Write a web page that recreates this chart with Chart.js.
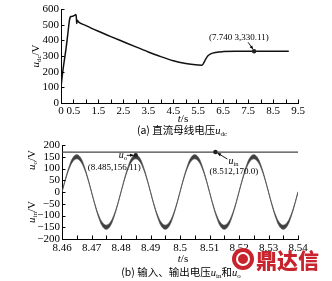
<!DOCTYPE html>
<html><head><meta charset="utf-8">
<script src="https://cdn.jsdelivr.net/npm/chart.js@4.4.0/dist/chart.umd.min.js"></script>
<style>
html,body{margin:0;padding:0;background:#fff;}
#wrap{position:relative;width:332px;height:281px;overflow:hidden;font-family:"Liberation Serif","DejaVu Serif",serif;}
canvas{position:absolute;left:0;top:0;}
.t{position:absolute;white-space:nowrap;font-size:11px;color:#000;line-height:1;transform:translate(-50%,-50%);}
.rot{transform:translate(-50%,-50%) rotate(-90deg);}
.cn{font-family:"Noto Sans CJK SC","Liberation Serif",serif;font-size:10.5px;}
i{font-style:italic;font-family:"Liberation Serif",serif;}
.s{font-size:7px;position:relative;top:2px;font-family:"Liberation Serif",serif;}
#logo{position:absolute;left:232px;top:248px;width:22px;height:22px;border-radius:50%;background:#c9242d;}
#logo:after{content:"";position:absolute;left:4px;top:4px;width:10px;height:10px;border:2px solid #fff;border-radius:50%;}
#wm{position:absolute;left:256px;top:246px;font-family:"Noto Sans CJK SC",sans-serif;font-weight:900;font-size:21px;color:#c9242d;line-height:26px;letter-spacing:0px;}
</style></head><body>
<div id="wrap">
<canvas id="c1" width="332" height="281"></canvas>
<canvas id="c2" width="332" height="281"></canvas>
<div class="t rot" style="left:35px;top:56px"><i>u</i><span class="s">dc</span>/V</div>
<div class="t" style="left:183px;top:118px"><i>t</i>/s</div>
<div class="t cn" style="left:182px;top:131px">(a) 直流母线电压<i>u</i><span class="s">dc</span></div>
<div class="t rot" style="left:31px;top:160px"><i>u</i><span class="s">o</span>/V</div>
<div class="t rot" style="left:31px;top:212px"><i>u</i><span class="s">in</span>/V</div>
<div class="t" style="left:183px;top:258px"><i>t</i>/s</div>
<div class="t cn" style="left:181px;top:273px">(b) 输入、输出电压<i>u</i><span class="s">in</span>和<i>u</i><span class="s">o</span></div>
<div id="logo"></div>
<div id="wm">鼎达信</div>
</div>
<script>
// ---- data: (a) DC bus voltage ----
const tDc = [0,0.04,0.1,0.2,0.28,0.33,0.37,0.4,0.45,0.5,0.55,0.58,0.61,0.63,0.65,0.7,1.0,1.5,2.0,2.5,3.0,3.5,4.0,4.5,5.0,5.3,5.5,5.65,5.7,5.8,5.9,6.0,6.2,6.5,7.0,7.74,8.5,9.13];
const uDc = [98,160,235,345,450,520,548,552,553,556,560,565,556,508,528,518,494,458,424,391,358,326,296,270,252,245,242,241,250,280,303,314,323,328,330,330,330,330];
const xTicksA = [0,0.5,1,1.5,2,2.5,3,3.5,4,4.5,5,5.5,6,6.5,7,7.5,8,8.5,9,9.5];
const xLabelsA = ['0','0.5','','1.5','','2.5','','3.5','','4.5','','5.5','','6.5','','7.5','','8.5','','9.5'];
const yTicksA = [0,100,200,300,400,500,600];

// ---- data: (b) input / output voltage ----
const tB = [8.46000,8.46125,8.46250,8.46375,8.46500,8.46625,8.46750,8.46875,
8.47000,8.47125,8.47250,8.47375,8.47500,8.47625,8.47750,8.47875,
8.48000,8.48125,8.48250,8.48375,8.48500,8.48625,8.48750,8.48875,
8.49000,8.49125,8.49250,8.49375,8.49500,8.49625,8.49750,8.49875,
8.50000,8.50125,8.50250,8.50375,8.50500,8.50625,8.50750,8.50875,
8.51000,8.51125,8.51250,8.51375,8.51500,8.51625,8.51750,8.51875,
8.52000,8.52125,8.52250,8.52375,8.52500,8.52625,8.52750,8.52875,
8.53000,8.53125,8.53250,8.53375,8.53500,8.53625,8.53750,8.53875,
8.54000];
const uoHi = [1.5,60,111,147,159,147,111,60,1.5,-55,-101,-131,-141,-131,-101,-55,
1.5,60,111,147,159,147,111,60,1.5,-55,-101,-131,-141,-131,-101,-55,
1.5,60,111,147,159,147,111,60,1.5,-55,-101,-131,-141,-131,-101,-55,
1.5,60,111,147,159,147,111,60,1.5,-55,-101,-131,-141,-131,-101,-55,1.5];
const uoLo = [-1.5,55,101,131,141,131,101,55,-1.5,-60,-111,-147,-159,-147,-111,-60,
-1.5,55,101,131,141,131,101,55,-1.5,-60,-111,-147,-159,-147,-111,-60,
-1.5,55,101,131,141,131,101,55,-1.5,-60,-111,-147,-159,-147,-111,-60,
-1.5,55,101,131,141,131,101,55,-1.5,-60,-111,-147,-159,-147,-111,-60,-1.5];
const tIn = [8.46,8.54];
const uIn = [170,170];
const xTicksB = [8.46,8.465,8.47,8.475,8.48,8.485,8.49,8.495,8.5,8.505,8.51,8.515,8.52,8.525,8.53,8.535,8.54];
const xLabelsB = ['8.46','','8.47','','8.48','','8.49','','8.5','','8.51','','8.52','','8.53','','8.54'];
const yTicksB = [-200,-150,-100,-50,0,50,100,150,200];

const FONT = {family:'"Liberation Serif", serif', size:11};

const inTicks = {
  id:'inTicks',
  afterDraw(chart){
    const {ctx, chartArea:a, scales:{x,y}} = chart;
    ctx.save(); ctx.strokeStyle='#000'; ctx.lineWidth=1; ctx.beginPath();
    x.ticks.forEach(t=>{const px=Math.round(x.getPixelForValue(t.value))+0.5; ctx.moveTo(px,a.bottom); ctx.lineTo(px,a.bottom-3.5);});
    y.ticks.forEach(t=>{const py=Math.round(y.getPixelForValue(t.value))+0.5; ctx.moveTo(a.left,py); ctx.lineTo(a.left+3.5,py);});
    ctx.stroke(); ctx.restore();
  }
};

function richText(ctx, segs, x, y){
  let cx = x;
  segs.forEach(s=>{
    if (s.sub){ ctx.font = '6.5px "Liberation Serif", serif'; ctx.fillText(s.s, cx, y+3); }
    else { ctx.font = (s.it?'italic 10px ':'9px ') + '"Liberation Serif", serif'; ctx.fillText(s.s, cx, y); }
    cx += ctx.measureText(s.s).width;
  });
}

const notes = {
  id:'notes',
  afterDatasetsDraw(chart, args, opts){
    const items = opts.items || [];
    const {ctx, scales:{x,y}} = chart;
    ctx.save();
    items.forEach(it=>{
      const px = x.getPixelForValue(it.x), py = y.getPixelForValue(it.y);
      const sx = px+it.a[0], sy = py+it.a[1], ex = px+it.a[2], ey = py+it.a[3];
      ctx.strokeStyle='#000'; ctx.fillStyle='#000'; ctx.lineWidth=0.9;
      ctx.beginPath(); ctx.moveTo(sx,sy); ctx.lineTo(ex,ey); ctx.stroke();
      const ang = Math.atan2(ey-sy, ex-sx);
      ctx.beginPath(); ctx.moveTo(ex,ey);
      ctx.lineTo(ex-4*Math.cos(ang-0.4), ey-4*Math.sin(ang-0.4));
      ctx.lineTo(ex-4*Math.cos(ang+0.4), ey-4*Math.sin(ang+0.4));
      ctx.closePath(); ctx.fill();
      ctx.beginPath(); ctx.arc(px,py,2.2,0,2*Math.PI); ctx.fillStyle='#222'; ctx.fill();
      ctx.fillStyle='#000'; ctx.textBaseline='middle'; ctx.textAlign='left';
      it.texts.forEach(t=>richText(ctx, t.segs, px+t.dx, py+t.dy));
    });
    ctx.restore();
  }
};

function baseScales(xmin,xmax,xt,xl,ymin,ymax,yt,ylab,xh,yw,pad){
  return {
    x:{type:'linear',min:xmin,max:xmax,
      afterBuildTicks(s){s.ticks = xt.map(v=>({value:v}));},
      afterFit(s){s.height = xh;},
      ticks:{autoSkip:false,maxRotation:0,padding:pad,color:'#000',font:FONT,callback:(v,i)=>xl[i]},
      grid:{display:false,drawTicks:false},
      border:{display:true,color:'#000',width:1}},
    y:{type:'linear',min:ymin,max:ymax,
      afterBuildTicks(s){s.ticks = yt.map(v=>({value:v}));},
      afterFit(s){s.width = yw;},
      ticks:{autoSkip:false,padding:2,color:'#000',font:FONT,callback:(v)=>ylab(v)},
      grid:{display:false,drawTicks:false},
      border:{display:true,color:'#000',width:1}}
  };
}

const common = {responsive:false,animation:false,devicePixelRatio:1,events:[]};

new Chart(document.getElementById('c1'),{
  type:'line',
  data:{datasets:[{data:tDc.map((t,i)=>({x:t,y:uDc[i]})),borderColor:'#111',borderWidth:1.5,pointRadius:0,cubicInterpolationMode:'monotone'}]},
  options:Object.assign({},common,{
    layout:{padding:{left:0,top:9,right:34,bottom:281-103-20}},
    scales:baseScales(0,9.5,xTicksA,xLabelsA,0,600,yTicksA,v=>String(v),20,61,2),
    plugins:{legend:{display:false},tooltip:{enabled:false},
      notes:{items:[{x:7.740,y:330.11,a:[-6,-9,-1,-2],texts:[{segs:[{s:'(7.740 3,330.11)'}],dx:-45,dy:-14}]}]}}
  }),
  plugins:[inTicks,notes]
});

new Chart(document.getElementById('c2'),{
  type:'line',
  data:{datasets:[
    {data:tIn.map((t,i)=>({x:t,y:uIn[i]})),borderColor:'#444',borderWidth:1.2,pointRadius:0},
    {data:tB.map((t,i)=>({x:t,y:uoHi[i]})),borderColor:'#4a4a4a',borderWidth:0.7,pointRadius:0,tension:0.4,fill:false},
    {data:tB.map((t,i)=>({x:t,y:uoLo[i]})),borderColor:'#4a4a4a',borderWidth:0.7,pointRadius:0,tension:0.4,fill:'-1',backgroundColor:'#404040'}
  ]},
  options:Object.assign({},common,{
    layout:{padding:{left:0,top:145,right:34,bottom:281-239-20}},
    scales:baseScales(8.46,8.54,xTicksB,xLabelsB,-200,200,yTicksB,v=>(v<0?'\u2212'+Math.abs(v):String(v)),20,62,3),
    plugins:{legend:{display:false},tooltip:{enabled:false},
      notes:{items:[
        {x:8.485,y:156.11,a:[-9,0,-2,0],texts:[{segs:[{s:'u',it:true},{s:'o',sub:true}],dx:-17,dy:0},{segs:[{s:'(8.485,156.11)'}],dx:-48,dy:12}]},
        {x:8.512,y:170.0,a:[12,7,2,1],texts:[{segs:[{s:'u',it:true},{s:'in',sub:true}],dx:13,dy:9},{segs:[{s:'(8.512,170.0)'}],dx:-6,dy:20}]}
      ]}}
  }),
  plugins:[inTicks,notes]
});
</script>
</body></html>
